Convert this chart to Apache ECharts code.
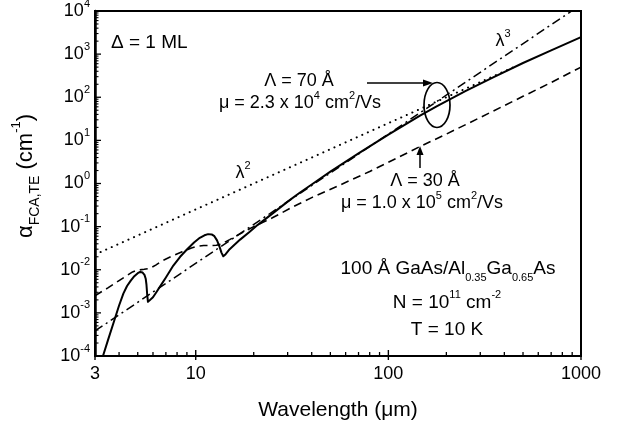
<!DOCTYPE html>
<html><head><meta charset="utf-8">
<script src="https://cdn.jsdelivr.net/npm/echarts@6/dist/echarts.min.js"></script>
<style>html,body{margin:0;padding:0;background:#fff}#c{width:621px;height:428px}#d{position:absolute;left:120px;top:60px;font:11px monospace;color:red;white-space:pre}</style>
</head><body><div id="c"></div><div id="d"></div>
<script>
const errs = [];
const showErr = () => { if (errs.length) document.getElementById('d').textContent = errs.join('\n'); };
window.onerror = (m, s, l) => { errs.push('ERR ' + m + ' @' + l); showErr(); };

const FONT = '"Liberation Sans", Arial, Helvetica, sans-serif';

// Axis ranges and tick values
const xRange = [3, 1000];
const yRange = [1e-4, 1e4];
const xMajorTicks = [3, 10, 100, 1000];
const xMinorTicks = [4, 5, 6, 7, 8, 9, 20, 30, 40, 50, 60, 70, 80, 90, 200, 300, 400, 500, 600, 700, 800, 900];
const yMajorTicks = [1e-4, 1e-3, 1e-2, 1e-1, 1, 10, 100, 1000, 10000];
const yMinorTicks = [];
yMajorTicks.slice(0, -1).forEach(d => { for (let k = 2; k <= 9; k++) yMinorTicks.push(+(d * k).toPrecision(3)); });

// Series data: [wavelength (um), alpha (cm^-1)]
const solid70 = [
  [3.3, 1.0e-4], [3.5, 2.3e-4], [3.81, 7.5e-4], [4.0, 1.48e-3], [4.21, 2.8e-3], [4.4, 4.2e-3],
  [4.6, 5.6e-3], [4.8, 7.1e-3], [5.0, 8.3e-3], [5.15, 8.9e-3], [5.3, 8.6e-3], [5.42, 7.6e-3],
  [5.5, 6.2e-3], [5.55, 4.5e-3], [5.6, 2.6e-3], [5.65, 1.8e-3], [5.7, 1.7e-3],
  [6.0, 2.3e-3], [6.27, 3.1e-3], [6.6, 4.4e-3], [7.0, 6.6e-3], [7.65, 0.0125], [8.3, 0.02],
  [9.0, 0.0295], [9.8, 0.043], [10.5, 0.055], [11.1, 0.063], [11.6, 0.067], [12.1, 0.066],
  [12.5, 0.06], [12.9, 0.048], [13.3, 0.034], [13.6, 0.025], [13.9, 0.0205], [14.3, 0.023],
  [15, 0.03], [17, 0.05], [19, 0.075], [21, 0.11], [25, 0.2], [30, 0.38],
  [34.8, 0.62], [40, 0.95], [50, 1.89], [70, 5.0], [100, 13.6], [146, 37.7], [178, 61.8],
  [251, 139], [350, 289], [500, 622], [700, 1220], [1000, 2490]
];
const dashed30 = [
  [3, 2.5e-3], [3.5, 3.8e-3], [4.0, 5.6e-3], [4.4, 7.4e-3], [4.7, 8.9e-3], [5.0, 9.8e-3],
  [5.4, 0.0103], [5.8, 0.0108], [6.2, 0.0128], [6.6, 0.0155], [7.5, 0.0205], [8.5, 0.026],
  [9.5, 0.032], [10.2, 0.035], [11, 0.0365], [12, 0.0365], [12.8, 0.037], [13.5, 0.039],
  [15, 0.05], [17, 0.068], [20, 0.1], [25, 0.16], [31.6, 0.28], [40, 0.47], [56, 0.92],
  [80, 1.9], [100, 3.1], [146, 7.2], [200, 14], [300, 34], [500, 105], [700, 220], [1000, 500]
];
const dottedLambda2 = [[3, 0.0225], [450, 506]];
const dashDotLambda3 = [[3, 3.8e-4], [894, 1e4]];

const R = {
  n: { fontSize: 18, lineHeight: 26, fontFamily: FONT, color: '#000' },
  b: { fontSize: 19, lineHeight: 28, fontFamily: FONT, color: '#000' },
  sup: { fontSize: 11, verticalAlign: 'top', fontFamily: FONT, color: '#000' },
  sub: { fontSize: 11, verticalAlign: 'bottom', fontFamily: FONT, color: '#000' },
  a: { fontSize: 22, lineHeight: 32, fontFamily: FONT, color: '#000' },
  as: { fontSize: 14, verticalAlign: 'bottom', fontFamily: FONT, color: '#000' },
  ap: { fontSize: 13, verticalAlign: 'top', fontFamily: FONT, color: '#000' }
};

function txt(id, x, y, text, align) {
  return { id: id, type: 'text', x: x, y: y, silent: true, z: 10,
    style: { text: text, rich: R, align: align || 'center', verticalAlign: 'middle', fill: '#000', font: '18px ' + FONT } };
}
function seg(id, x1, y1, x2, y2, w) {
  return { id: id, type: 'line', silent: true, z: 20, zlevel: 1, shape: { x1: x1, y1: y1, x2: x2, y2: y2 },
    style: { stroke: '#000', lineWidth: w || 1.3 } };
}

const chart = echarts.init(document.getElementById('c'));
const gridBox = { left: 95, right: 40, top: 11, bottom: 72, outerBoundsMode: 'none' };

let ticks = [];
try {
  chart.setOption({ animation: false, grid: Object.assign({}, gridBox),
    xAxis: { type: 'log', logBase: 10, min: xRange[0], max: xRange[1] },
    yAxis: { type: 'log', logBase: 10, min: yRange[0], max: yRange[1] },
    series: [{ type: 'line', data: dottedLambda2, symbol: 'none' }] });
  const toPx = v => chart.convertToPixel({ xAxisIndex: 0, yAxisIndex: 0 }, v);
  xMajorTicks.forEach((v, i) => { const p = toPx([v, yRange[0]]); ticks.push(seg('xM' + i, p[0], p[1] + 4, p[0], p[1] - 6, 1.4)); });
  xMinorTicks.forEach((v, i) => { const p = toPx([v, yRange[0]]); ticks.push(seg('xm' + i, p[0], p[1], p[0], p[1] - 4, 1.3)); });
  yMajorTicks.forEach((v, i) => { const p = toPx([xRange[0], v]); ticks.push(seg('yM' + i, p[0], p[1], p[0] + 6, p[1], 1.3)); });
  yMinorTicks.forEach((v, i) => { const p = toPx([xRange[0], v]); ticks.push(seg('ym' + i, p[0], p[1], p[0] + 3.5, p[1], 1.1)); });
} catch (e) { errs.push('S1 ' + e.message); }

const annotations = [
  txt('t1', 111, 43, '{b|Δ = 1 ML}', 'left'),
  txt('t2', 299, 81, '{n|Λ = 70 Å}'),
  txt('t3', 300, 103, '{n|μ = 2.3 x 10}{sup|4}{n| cm}{sup|2}{n|/Vs}'),
  seg('ar1', 367, 83, 426, 83, 1.5),
  { id: 'ah1', type: 'polygon', silent: true, z: 10, shape: { points: [[433, 83], [423, 79.5], [423, 86.5]] }, style: { fill: '#000' } },
  { id: 'el', type: 'ellipse', silent: true, z: 10, shape: { cx: 437, cy: 105, rx: 13, ry: 22.5 }, style: { fill: 'none', stroke: '#000', lineWidth: 1.7 } },
  txt('t4', 503, 41, '{n|λ}{sup|3}'),
  txt('t5', 243, 173, '{n|λ}{sup|2}'),
  seg('ar2', 420, 168, 420, 153, 1.5),
  { id: 'ah2', type: 'polygon', silent: true, z: 10, shape: { points: [[420, 146], [416.5, 155], [423.5, 155]] }, style: { fill: '#000' } },
  txt('t6', 425, 181, '{n|Λ = 30 Å}'),
  txt('t7', 422, 203, '{n|μ = 1.0 x 10}{sup|5}{n| cm}{sup|2}{n|/Vs}'),
  txt('t8', 448, 269, '{b|100 Å GaAs/Al}{sub|0.35}{b|Ga}{sub|0.65}{b|As}'),
  txt('t9', 447, 303, '{b|N = 10}{sup|11}{b| cm}{sup|-2}'),
  txt('t10', 447, 330, '{b|T = 10 K}')
];

const option = {
  animation: false,
  backgroundColor: '#fff',
  grid: Object.assign({ show: true, borderColor: '#000', borderWidth: 2, backgroundColor: 'transparent' }, gridBox),
  xAxis: {
    type: 'log', logBase: 10, min: xRange[0], max: xRange[1],
    axisLine: { show: true, lineStyle: { color: '#000', width: 2 } },
    axisTick: { show: false }, minorTick: { show: false },
    axisLabel: { show: true, showMinLabel: true, showMaxLabel: true, fontSize: 18, fontFamily: FONT, color: '#000', margin: 9,
      formatter: v => String(Math.round(v)) },
    splitLine: { show: false },
    name: 'Wavelength (μm)', nameLocation: 'middle', nameGap: 44,
    nameTextStyle: { fontSize: 21, fontFamily: FONT, color: '#000' }
  },
  yAxis: {
    type: 'log', logBase: 10, min: yRange[0], max: yRange[1],
    axisLine: { show: true, lineStyle: { color: '#000', width: 2.5 } },
    axisTick: { show: false }, minorTick: { show: false },
    axisLabel: { show: true, showMinLabel: true, showMaxLabel: true, margin: 5,
      formatter: v => '{n|10}{sup|' + Math.round(Math.log10(v)) + '}', rich: R },
    splitLine: { show: false },
    name: '{a|α}{as|FCA,TE}{a| (cm}{ap|-1}{a|)}', nameLocation: 'middle', nameGap: 53, nameRotate: 90,
    nameTextStyle: { rich: R, padding: [0, 0, 0, 15] }
  },
  series: [
    { name: 'Λ = 70 Å', type: 'line', data: solid70, showSymbol: false, symbol: 'none',
      lineStyle: { color: '#000', width: 2, join: 'round' }, clip: true, z: 3 },
    { name: 'Λ = 30 Å', type: 'line', data: dashed30, showSymbol: false, symbol: 'none',
      lineStyle: { color: '#000', width: 1.6, type: [8, 5] }, clip: true, z: 3 },
    { name: 'λ²', type: 'line', data: dottedLambda2, showSymbol: false, symbol: 'none',
      lineStyle: { color: '#000', width: 2, type: [0.1, 6], cap: 'round' }, clip: true, z: 3 },
    { name: 'λ³', type: 'line', data: dashDotLambda3, showSymbol: false, symbol: 'none',
      lineStyle: { color: '#000', width: 1.5, type: [9, 4, 2, 4] }, clip: true, z: 3 }
  ],
  graphic: ticks.concat(annotations)
};

// Step 2: the full chart, ticks included from the start
try { chart.setOption(option, true); } catch (e) { errs.push('S2 ' + e.message); }
showErr();
</script></body></html>
